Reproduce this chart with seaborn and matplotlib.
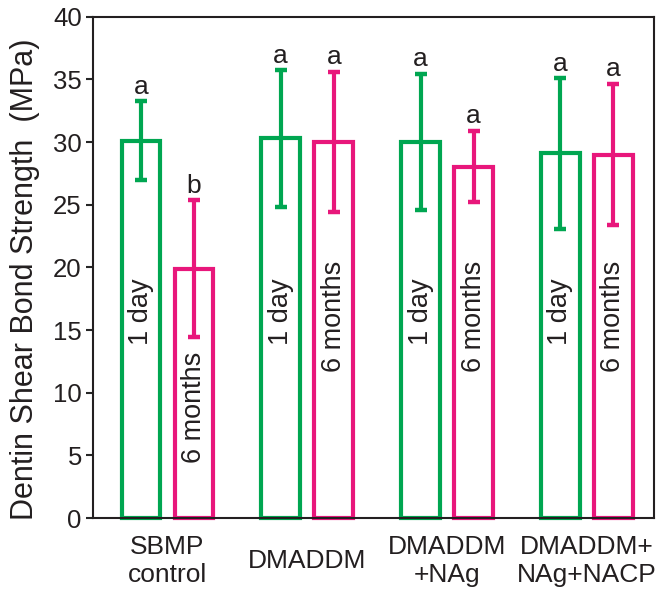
import matplotlib
matplotlib.use("Agg")
import matplotlib.pyplot as plt
import seaborn as sns
import pandas as pd

groups = ["SBMP\ncontrol", "DMADDM", "DMADDM\n+NAg", "DMADDM+\nNAg+NACP"]
times = ["1 day", "6 months"]
mean_1day = [30.1, 30.3, 30.0, 29.1]
mean_6mon = [19.9, 30.0, 28.05, 29.0]
sd_1day = [3.15, 5.45, 5.45, 6.0]
sd_6mon = [5.45, 5.6, 2.85, 5.65]
letters_1day = ["a", "a", "a", "a"]
letters_6mon = ["b", "a", "a", "a"]

GREEN = "#00A651"
PINK = "#E8177B"
INK = "#231f20"

df = pd.DataFrame({
    "group": groups * 2,
    "time": [times[0]] * 4 + [times[1]] * 4,
    "value": mean_1day + mean_6mon,
})

sns.set_style("white")
plt.rcParams["font.family"] = ["Liberation Sans", "DejaVu Sans"]

fig = plt.figure(figsize=(6.64, 6.01), dpi=100)
ax = fig.add_axes([0.140, 0.138, 0.845, 0.834])

sns.barplot(data=df, x="group", y="value", hue="time", order=groups,
            hue_order=times, palette=[GREEN, PINK], fill=False,
            linewidth=3, width=0.76, gap=0.27, errorbar=None,
            legend=False, ax=ax)

bar_containers = list(ax.containers)
sds = [sd_1day, sd_6mon]
means = [mean_1day, mean_6mon]
letters = [letters_1day, letters_6mon]
colors = [GREEN, PINK]
for h, cont in enumerate(bar_containers):
    for i, bar in enumerate(cont.patches):
        bar.set_clip_on(False)
        xc = bar.get_x() + bar.get_width() / 2
        m = means[h][i]
        s = sds[h][i]
        eb = ax.errorbar(xc, m, yerr=s, fmt="none", ecolor=colors[h],
                         elinewidth=3, capsize=4.5, capthick=3.2, zorder=3)
        for cl in eb[1]:
            cl.set_clip_on(False)
        ax.text(xc, m + s + 0.6, letters[h][i], ha="center", va="baseline",
                fontsize=19, color=INK)
        if h == 0:
            ly = 13.8
        else:
            ly = 4.4 if i == 0 else 11.65
        ax.text(xc, ly, times[h], rotation=90, ha="center", va="bottom",
                fontsize=19.5, color=INK)

ax.set_ylim(0, 40)
ax.set_xlim(-0.533, 3.48)
ax.set_yticks(range(0, 41, 5))
ax.tick_params(axis="y", which="both", left=True, length=5, width=1.5,
               direction="out", pad=3, labelsize=18.5, labelcolor=INK)
ax.tick_params(axis="x", length=0, pad=31, labelsize=19, labelcolor=INK)
for lab in ax.get_xticklabels():
    lab.set_verticalalignment("center")
    lab.set_linespacing(1.2)
ax.set_xlabel("")
ax.set_ylabel("Dentin Shear Bond Strength  (MPa)", fontsize=22,
              color=INK, labelpad=8)
ax.yaxis.set_label_coords(-0.094, 0.477)
for sp in ax.spines.values():
    sp.set_visible(True)
    sp.set_linewidth(1.5)
    sp.set_color(INK)

fig.savefig("out.png", dpi=100)
